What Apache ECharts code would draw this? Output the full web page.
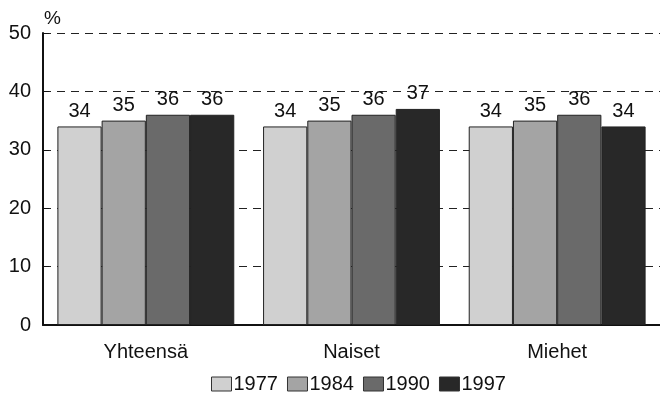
<!DOCTYPE html>
<html><head><meta charset="utf-8">
<script src="https://cdn.jsdelivr.net/npm/echarts@6/dist/echarts.min.js"></script>
<style>html,body{margin:0;padding:0;background:#fff}#c{width:660px;height:399px}</style>
</head><body><div id="c"></div>
<script>
var categories = ['Yhteensä', 'Naiset', 'Miehet'];
var years = ['1977', '1984', '1990', '1997'];
var v1977 = [34, 34, 34];
var v1984 = [35, 35, 35];
var v1990 = [36, 36, 36];
var v1997 = [36, 37, 34];
var yTicks = [0, 10, 20, 30, 40, 50];
var colors = ['#d0d0d0', '#a4a4a4', '#6a6a6a', '#282828'];
var FONT = '"Liberation Sans", Arial, sans-serif';
var values = [v1977, v1984, v1990, v1997];
var chart = echarts.init(document.getElementById('c'));
chart.setOption({
  animation: false,
  grid: {left: 43, right: -4, top: 33, bottom: 74},
  legend: {
    bottom: 0, left: 206, icon: 'rect', itemWidth: 20, itemHeight: 14, itemGap: 9,
    textStyle: {fontFamily: FONT, fontSize: 20, color: '#111', padding: [0,0,0,-3]},
    itemStyle: {borderColor: '#333', borderWidth: 1},
    data: years
  },
  graphic: [{type: 'text', left: 44, top: 9, style: {text: '%', font: '19px ' + FONT, fill: '#111'}}],
  xAxis: {
    type: 'category', data: categories,
    axisLine: {lineStyle: {color: '#111', width: 2}},
    axisTick: {show: false},
    axisLabel: {fontFamily: FONT, fontSize: 20, color: '#111', margin: 17}
  },
  yAxis: {
    type: 'value', min: 0, max: 50, interval: 10,
    axisLine: {show: true, lineStyle: {color: '#111', width: 2}},
    axisTick: {show: true, inside: true, length: 6, lineStyle: {color: '#111'}},
    axisLabel: {fontFamily: FONT, fontSize: 20, color: '#111', margin: 12,
      formatter: function (v) { return yTicks.indexOf(v) >= 0 ? String(v) : ''; }},
    splitLine: {show: true, lineStyle: {color: '#222', type: [8, 6], width: 1.2}}
  },
  series: years.map(function (y, i) {
    return {
      name: y, type: 'bar', data: values[i],
      barGap: '0%', barCategoryGap: '14%',
      itemStyle: {color: colors[i], borderColor: '#222', borderWidth: 1},
      label: {show: true, position: 'top', distance: 5, fontFamily: FONT, fontSize: 20, color: '#111'}
    };
  })
});
</script></body></html>
